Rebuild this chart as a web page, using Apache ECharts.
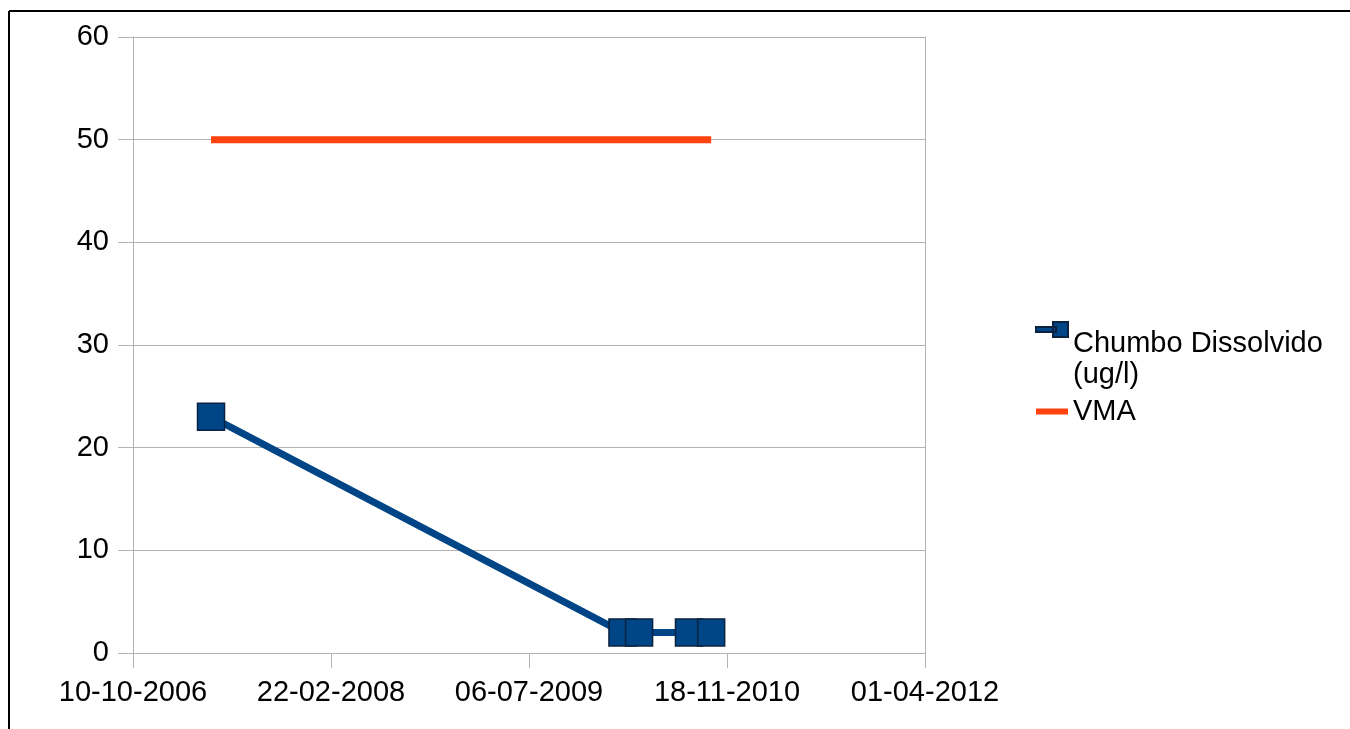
<!DOCTYPE html>
<html>
<head>
<meta charset="utf-8">
<title>Chumbo Dissolvido</title>
<script src="https://cdn.jsdelivr.net/npm/echarts@6/dist/echarts.min.js"></script>
<style>
  html, body { margin: 0; padding: 0; background: #ffffff; }
  #chart { width: 1350px; height: 729px; }
</style>
</head>
<body>
<div id="chart"></div>
<script>
// Sampling dates and measured values
const sampleDates = ['2007-04-25', '2010-02-27', '2010-04-10', '2010-08-14', '2010-10-09'];
const chumboValues = [23, 2, 2, 2, 2];
const vmaValues = [50, 50, 50, 50, 50];

// Axis ticks: x every 500 days from the origin date
const originDate = '2006-10-10';
const xTickLabels = ['10-10-2006', '22-02-2008', '06-07-2009', '18-11-2010', '01-04-2012'];
const xTickStepDays = 500;
const yTicks = [0, 10, 20, 30, 40, 50, 60];

const seriesNames = ['Chumbo Dissolvido (ug/l)', 'VMA'];

function toUTC(iso) {
  const p = iso.split('-').map(Number);
  return Date.UTC(p[0], p[1] - 1, p[2]);
}
const DAY = 86400000;
const origin = toUTC(originDate);
const dayOffset = iso => (toUTC(iso) - origin) / DAY;

const chumboData = sampleDates.map((d, i) => [dayOffset(d), chumboValues[i]]);
const vmaData = sampleDates.map((d, i) => [dayOffset(d), vmaValues[i]]);

const FONT = '"Liberation Sans", Arial, sans-serif';
const FONT_SIZE = 29;
const GRID_COLOR = '#b3b3b3';
const BLUE = '#004586';
const ORANGE = '#ff420e';

const chart = echarts.init(document.getElementById('chart'), null, { renderer: 'canvas' });

chart.setOption({
  animation: false,
  backgroundColor: '#ffffff',
  grid: { left: 133, right: 425, top: 37, bottom: 76, containLabel: false },
  xAxis: {
    type: 'value',
    min: 0,
    max: xTickStepDays * (xTickLabels.length - 1),
    interval: xTickStepDays,
    axisLine: { show: true, onZero: false, lineStyle: { color: GRID_COLOR, width: 1 } },
    axisTick: { show: true, length: 15, lineStyle: { color: GRID_COLOR, width: 1 } },
    splitLine: { show: false },
    axisLabel: {
      margin: 25,
      color: '#000000',
      fontFamily: FONT,
      fontSize: FONT_SIZE,
      formatter: v => xTickLabels[Math.round(v / xTickStepDays)]
    }
  },
  yAxis: [
    {
      type: 'value',
      min: yTicks[0],
      max: yTicks[yTicks.length - 1],
      interval: yTicks[1] - yTicks[0],
      axisLine: { show: true, lineStyle: { color: GRID_COLOR, width: 1 } },
      axisTick: { show: true, length: 15, lineStyle: { color: GRID_COLOR, width: 1 } },
      splitLine: { show: true, lineStyle: { color: GRID_COLOR, width: 1 } },
      axisLabel: { margin: 24, color: '#000000', fontFamily: FONT, fontSize: FONT_SIZE }
    },
    {
      // right edge of the plot area
      type: 'value',
      position: 'right',
      min: yTicks[0],
      max: yTicks[yTicks.length - 1],
      axisLine: { show: true, lineStyle: { color: GRID_COLOR, width: 1 } },
      axisTick: { show: false },
      axisLabel: { show: false },
      splitLine: { show: false }
    }
  ],
  legend: {
    orient: 'vertical',
    left: 1035,
    top: 284,
    padding: 0,
    itemGap: 8,
    itemWidth: 32,
    itemHeight: 15,
    textStyle: {
      color: '#000000',
      fontFamily: FONT,
      fontSize: FONT_SIZE,
      rich: {
        gap: { fontSize: FONT_SIZE, lineHeight: 59 },
        t: { color: '#000000', fontFamily: FONT, fontSize: FONT_SIZE, lineHeight: 31 }
      }
    },
    // the long name wraps onto two lines, with the key beside the first line
    formatter: name => name === seriesNames[0]
      ? '{gap| }\n{t|Chumbo Dissolvido}\n{t|(ug/l)}'
      : '{t|' + name + '}',
    data: [
      { name: seriesNames[0], icon: 'path://M0,5H20V10H0Z M17,0H32V15H17Z' },
      { name: seriesNames[1], icon: 'path://M0,0H32V6H0Z' }
    ]
  },
  graphic: [
    { type: 'line', shape: { x1: 9, y1: 11, x2: 1350, y2: 11 }, style: { stroke: '#000000', lineWidth: 2 } },
    { type: 'line', shape: { x1: 9, y1: 11, x2: 9, y2: 729 }, style: { stroke: '#000000', lineWidth: 2 } }
  ],
  series: [
    {
      name: seriesNames[0],
      type: 'line',
      data: chumboData,
      symbol: 'rect',
      symbolSize: 27,
      lineStyle: { color: BLUE, width: 7 },
      itemStyle: { color: BLUE, borderColor: '#0b2240', borderWidth: 1.5 },
      z: 3
    },
    {
      name: seriesNames[1],
      type: 'line',
      data: vmaData,
      symbol: 'none',
      lineStyle: { color: ORANGE, width: 7 },
      itemStyle: { color: ORANGE },
      z: 2
    }
  ]
});
</script>
</body>
</html>
